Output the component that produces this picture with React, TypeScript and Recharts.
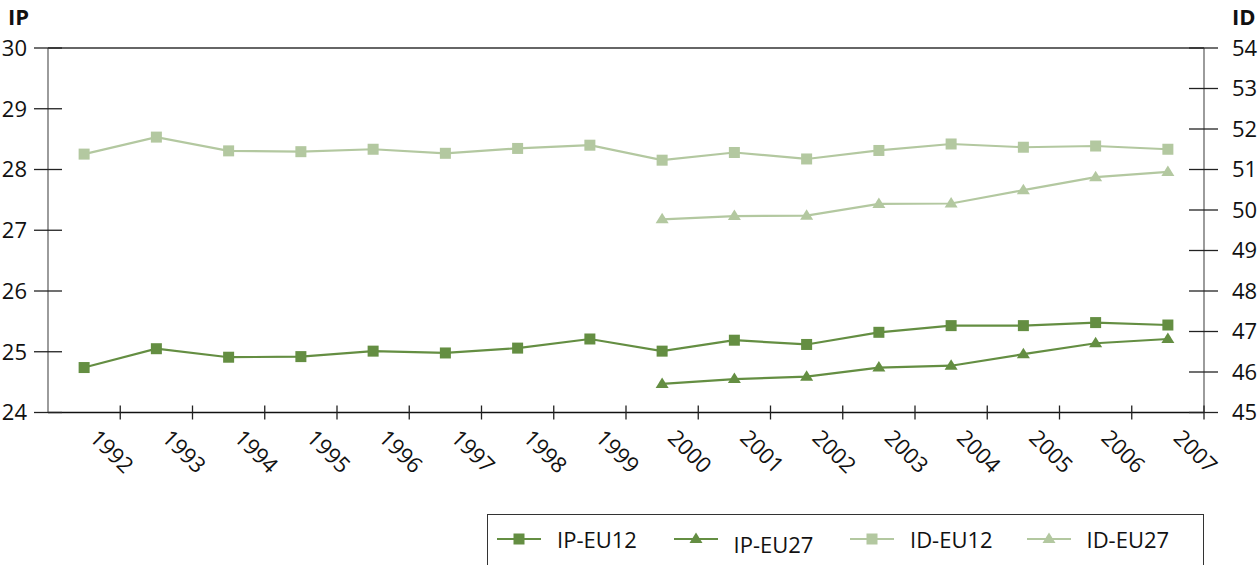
import { LineChart, Line, XAxis, YAxis, Legend, ReferenceLine } from "recharts";

const years = [
  "1992", "1993", "1994", "1995", "1996", "1997", "1998", "1999",
  "2000", "2001", "2002", "2003", "2004", "2005", "2006", "2007",
];

// left axis (IP)
const ipEu12 = [24.74, 25.05, 24.91, 24.92, 25.01, 24.98, 25.06, 25.21, 25.01, 25.19, 25.12, 25.32, 25.43, 25.43, 25.48, 25.44];
const ipEu27 = [null, null, null, null, null, null, null, null, 24.47, 24.55, 24.59, 24.74, 24.77, 24.96, 25.14, 25.21];

// right axis (ID)
const idEu12 = [51.38, 51.8, 51.46, 51.44, 51.5, 51.4, 51.52, 51.6, 51.23, 51.42, 51.26, 51.47, 51.63, 51.55, 51.58, 51.5];
const idEu27 = [null, null, null, null, null, null, null, null, 49.77, 49.85, 49.86, 50.15, 50.16, 50.49, 50.81, 50.94];

const ipTicks = [24, 25, 26, 27, 28, 29, 30];
const idTicks = [45, 46, 47, 48, 49, 50, 51, 52, 53, 54];

const DARK = "#648e42";
const LIGHT = "#b3c8a0";
const FONT = "'Open Sans', sans-serif";

const series = [
  { key: "ipEu12", name: "IP-EU12", axis: "left", color: DARK, shape: "square" },
  { key: "ipEu27", name: "IP-EU27", axis: "left", color: DARK, shape: "triangle" },
  { key: "idEu12", name: "ID-EU12", axis: "right", color: LIGHT, shape: "square" },
  { key: "idEu27", name: "ID-EU27", axis: "right", color: LIGHT, shape: "triangle" },
];

const data = years.map((year, i) => ({
  year,
  ipEu12: ipEu12[i],
  ipEu27: ipEu27[i],
  idEu12: idEu12[i],
  idEu27: idEu27[i],
}));

const PLOT_LEFT = 48;
const PLOT_RIGHT = 1204;
const HALF_BAND = (PLOT_RIGHT - PLOT_LEFT) / years.length / 2;

function Marker({ shape, color, cx, cy }: any) {
  if (shape === "square") {
    return <rect x={cx - 5.5} y={cy - 5.5} width={11} height={11} fill={color} />;
  }
  return (
    <path
      d={`M${cx},${cy - 6.5}L${cx + 6.5},${cy + 4}L${cx - 6.5},${cy + 4}Z`}
      fill={color}
    />
  );
}

const makeDot = (shape: string, color: string) => (props: any) => {
  const { cx, cy, index } = props;
  if (cx == null || cy == null || props.value == null) return <g key={index} />;
  return (
    <g key={index}>
      <Marker shape={shape} color={color} cx={cx} cy={cy} />
    </g>
  );
};

function LeftTick({ x, y, payload }: any) {
  return (
    <g>
      <line x1={x - 14} x2={x + 14} y1={y} y2={y} stroke="#222" strokeWidth={1.3} />
      <text x={x - 21} y={y} dy="0.36em" textAnchor="end" fontSize={22} fill="#111" fontFamily={FONT}>
        {payload.value}
      </text>
    </g>
  );
}

function RightTick({ x, y, payload }: any) {
  return (
    <g>
      <line x1={x - 15} x2={x + 14} y1={y} y2={y} stroke="#222" strokeWidth={1.3} />
      <text x={x + 28} y={y} dy="0.36em" textAnchor="start" fontSize={22} fill="#111" fontFamily={FONT}>
        {payload.value}
      </text>
    </g>
  );
}

function YearTick({ x, y, payload }: any) {
  // ticks and labels sit on the right edge of each band
  const bx = x + HALF_BAND;
  const cx = bx - 8.5;
  const cy = y + 39;
  return (
    <g>
      <line x1={bx} x2={bx} y1={y - 7} y2={y + 7} stroke="#222" strokeWidth={1.3} />
      <text
        x={cx}
        y={cy}
        dy="0.35em"
        textAnchor="middle"
        fontSize={22}
        fill="#111"
        fontFamily={FONT}
        transform={`rotate(45 ${cx} ${cy})`}
      >
        {payload.value}
      </text>
    </g>
  );
}

function LegendBox() {
  return (
    <div
      style={{
        boxSizing: "border-box",
        width: "100%",
        height: "100%",
        border: "1.5px solid #333",
        display: "flex",
        paddingLeft: 9,
        fontFamily: FONT,
      }}
    >
      {series.map((s, i) => (
        <div key={s.key} style={{ width: 184, height: 48, display: "flex", alignItems: "center" }}>
          <svg width={44} height={20}>
            <line x1={0} x2={44} y1={10} y2={10} stroke={s.color} strokeWidth={2.2} />
            <Marker shape={s.shape} color={s.color} cx={22} cy={10} />
          </svg>
          <span
            style={{
              marginLeft: 16,
              fontSize: 22,
              color: "#111",
              position: "relative",
              top: i === 1 ? 5 : 0,
            }}
          >
            {s.name}
          </span>
        </div>
      ))}
    </div>
  );
}

export default function App() {
  return (
    <div style={{ position: "absolute", left: 0, top: 0, width: 1258, height: 565, background: "#fff", fontFamily: FONT }}>
      <LineChart width={1258} height={565} data={data} margin={{ top: 48, right: 0, left: 0, bottom: 0 }}>
        <XAxis
          dataKey="year"
          scale="band"
          interval={0}
          height={100.5}
          tickSize={0}
          tickMargin={0}
          tickLine={false}
          axisLine={{ stroke: "#111", strokeWidth: 1.3 }}
          tick={<YearTick />}
        />
        <YAxis
          yAxisId="left"
          orientation="left"
          width={48}
          domain={[24, 30]}
          ticks={ipTicks}
          interval={0}
          tickSize={0}
          tickMargin={0}
          tickLine={false}
          axisLine={{ stroke: "#666", strokeWidth: 1.3 }}
          tick={<LeftTick />}
          label={() => (
            <text x={8} y={25} fontSize={22} fontWeight="bold" fill="#111" fontFamily={FONT}>
              IP
            </text>
          )}
        />
        <YAxis
          yAxisId="right"
          orientation="right"
          width={54}
          domain={[45, 54]}
          ticks={idTicks}
          interval={0}
          tickSize={0}
          tickMargin={0}
          tickLine={false}
          axisLine={{ stroke: "#666", strokeWidth: 1.3 }}
          tick={<RightTick />}
          label={() => (
            <text x={1232} y={25} fontSize={22} fontWeight="bold" fill="#111" fontFamily={FONT}>
              ID
            </text>
          )}
        />
        <ReferenceLine yAxisId="left" y={30} stroke="#333" strokeWidth={1.3} />
        {series.map((s) => (
          <Line
            key={s.key}
            yAxisId={s.axis}
            dataKey={s.key}
            name={s.name}
            type="linear"
            stroke={s.color}
            strokeWidth={2.2}
            dot={makeDot(s.shape, s.color)}
            activeDot={false}
            isAnimationActive={false}
          />
        ))}
        <Legend
          verticalAlign="bottom"
          content={<LegendBox />}
          wrapperStyle={{ position: "absolute", left: 487, top: 514, width: 717, height: 52 }}
        />
      </LineChart>
    </div>
  );
}
